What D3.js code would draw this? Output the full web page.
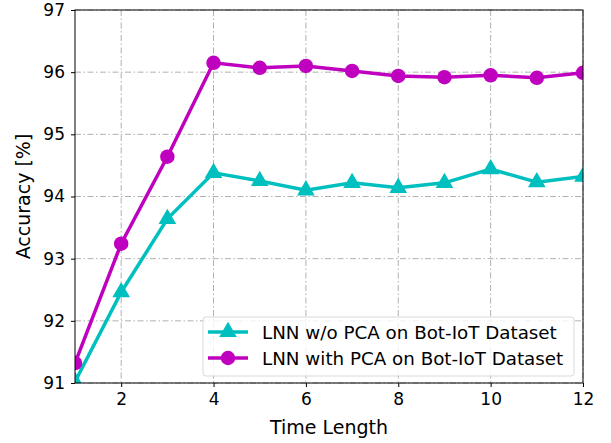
<!DOCTYPE html>
<meta charset="utf-8">
<script src="https://cdn.jsdelivr.net/npm/d3@7"></script>
<style>
body { margin: 0; background: #fff; }
svg { display: block; font-family: "DejaVu Sans", sans-serif; }
.grid line { stroke: #b0b0b0; stroke-width: 1; stroke-dasharray: 6,2.5,1.5,2.5; }
.label { font-size: 19px; fill: #000; }
.legend text { font-size: 18.3px; fill: #000; }
</style>
<body>
<div class="chart"></div>
<script>

// Data
var timeLength = [1, 2, 3, 4, 5, 6, 7, 8, 9, 10, 11, 12],
    woPca = [91.02, 92.46, 93.64, 94.38, 94.25, 94.10, 94.22, 94.14, 94.22, 94.44, 94.23, 94.32],
    withPca = [91.32, 93.24, 94.64, 96.15, 96.07, 96.10, 96.02, 95.94, 95.92, 95.95, 95.91, 95.99],
    xTicks = [2, 4, 6, 8, 10, 12],
    yTicks = [91, 92, 93, 94, 95, 96, 97],
    seriesNames = ["LNN w/o PCA on Bot-IoT Dataset", "LNN with PCA on Bot-IoT Dataset"];

var W = 611, H = 443,
    margin = {top: 10, right: 28, bottom: 60, left: 75},
    width = W - margin.left - margin.right,
    height = H - margin.top - margin.bottom;

var svg = d3.select(".chart").append("svg")
    .attr("width", W)
    .attr("height", H);

var g = svg.append("g")
    .attr("transform", "translate(" + margin.left + "," + margin.top + ")");

var x = d3.scaleLinear().domain([1, 12]).range([0, width]);
var y = d3.scaleLinear().domain([91, 97]).range([height, 0]);

// grid
g.append("g").attr("class", "grid")
  .selectAll("line").data(xTicks).enter().append("line")
    .attr("x1", function(d) { return x(d); })
    .attr("x2", function(d) { return x(d); })
    .attr("y1", 0).attr("y2", height);
g.append("g").attr("class", "grid")
  .selectAll("line").data(yTicks).enter().append("line")
    .attr("x1", 0).attr("x2", width)
    .attr("y1", function(d) { return y(d); })
    .attr("y2", function(d) { return y(d); });

// clip
g.append("clipPath").attr("id", "clip")
  .append("rect").attr("width", width).attr("height", height);

var plot = g.append("g").attr("clip-path", "url(#clip)");

var line = d3.line()
    .x(function(d) { return x(d[0]); })
    .y(function(d) { return y(d[1]); });

var series = [
  {name: seriesNames[0], values: woPca, color: "#00bfbf", marker: d3.symbolTriangle},
  {name: seriesNames[1], values: withPca, color: "#bf00bf", marker: d3.symbolCircle}
];

function markerSize(m) { return m === d3.symbolCircle ? 165 : 135; }

series.forEach(function(s) {
  var pts = timeLength.map(function(t, i) { return [t, s.values[i]]; });
  plot.append("path")
      .datum(pts)
      .attr("fill", "none")
      .attr("stroke", s.color)
      .attr("stroke-width", 3.5)
      .attr("d", line);
  plot.selectAll(null)
      .data(pts)
      .enter().append("path")
      .attr("d", d3.symbol().type(s.marker).size(markerSize(s.marker)))
      .attr("transform", function(d) { return "translate(" + x(d[0]) + "," + y(d[1]) + ")"; })
      .attr("fill", s.color);
});

// axes
var xAxis = g.append("g")
    .attr("transform", "translate(0," + height + ")")
    .call(d3.axisBottom(x).tickValues(xTicks).tickSize(4).tickPadding(6));
var yAxis = g.append("g")
    .call(d3.axisLeft(y).tickValues(yTicks).tickFormat(d3.format("d")).tickSize(4).tickPadding(6));
[xAxis, yAxis].forEach(function(a) {
  a.attr("font-size", null).attr("font-family", null);
  a.select(".domain").remove();
  a.selectAll(".tick line").attr("stroke", "#000").attr("stroke-width", 1);
  a.selectAll(".tick text").style("font-size", "17px").attr("fill", "#000");
});

// frame
g.append("rect")
    .attr("width", width).attr("height", height)
    .attr("fill", "none").attr("stroke", "#000").attr("stroke-width", 1);

// axis labels
svg.append("text").attr("class", "label")
    .attr("x", margin.left + width / 2)
    .attr("y", 434)
    .attr("text-anchor", "middle")
    .text("Time Length");
svg.append("text").attr("class", "label")
    .attr("transform", "translate(30," + (margin.top + height / 2) + ") rotate(-90)")
    .attr("text-anchor", "middle")
    .text("Accuracy [%]");

// legend
var lg = g.append("g").attr("class", "legend")
    .attr("transform", "translate(" + (203 - margin.left) + "," + (317 - margin.top) + ")");
lg.append("rect")
    .attr("width", 371).attr("height", 59)
    .attr("rx", 3).attr("ry", 3)
    .attr("fill", "#fff").attr("fill-opacity", 0.8)
    .attr("stroke", "#d9d9d9").attr("stroke-width", 1);

series.forEach(function(s, i) {
  var row = lg.append("g").attr("transform", "translate(0," + (15 + i * 26) + ")");
  row.append("line")
      .attr("x1", 5).attr("x2", 45)
      .attr("stroke", s.color).attr("stroke-width", 3.5);
  row.append("path")
      .attr("d", d3.symbol().type(s.marker).size(markerSize(s.marker)))
      .attr("transform", "translate(25,0)")
      .attr("fill", s.color);
  row.append("text")
      .attr("x", 59).attr("y", 6.5)
      .text(s.name);
});

</script>
</body>
</html>
